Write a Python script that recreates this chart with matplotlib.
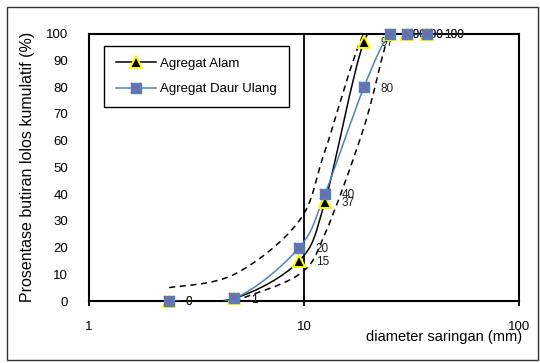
import matplotlib
matplotlib.use("Agg")
import matplotlib.pyplot as plt
from matplotlib.lines import Line2D
from matplotlib.path import Path
from matplotlib.patches import PathPatch, Rectangle
import numpy as np

plt.rcParams['font.family'] = ['Liberation Sans', 'DejaVu Sans']

# ukuran saringan (mm)
sieve = [2.36, 4.75, 9.5, 12.5, 19, 25, 30, 37.5]
alam = [0, 1, 15, 37, 97, 100, 100, 100]
daur_ulang = [0, 1, 20, 40, 80, 100, 100, 100]

# batas gradasi (garis putus-putus)
upper_sieve = [2.36, 4.75, 9.5, 12.5, 19, 25, 30, 37.5]
upper_limit = [5, 10, 30, 56, 100, 100, 100, 100]
lower_sieve = [4.75, 9.5, 12.5, 19, 25, 30, 37.5]
lower_limit = [0, 10, 25, 65, 100, 100, 100]

yticks = list(range(0, 101, 10))
xticks = [1, 10, 100]


def smooth_path(xs, ys):
    # bezier halus ala Excel (Catmull-Rom) pada sumbu log
    p = np.column_stack([np.log10(xs), ys]).astype(float)
    n = len(p)
    verts = [p[0]]
    codes = [Path.MOVETO]
    for i in range(n - 1):
        p0 = p[max(i - 1, 0)]
        p1 = p[i]
        p2 = p[i + 1]
        p3 = p[min(i + 2, n - 1)]
        c1 = p1 + (p2 - p0) / 6.0
        c2 = p2 - (p3 - p1) / 6.0
        verts += [c1, c2, p2]
        codes += [Path.CURVE4] * 3
    verts = np.array(verts)
    verts[:, 0] = 10 ** verts[:, 0]
    return Path(verts, codes)


fig = plt.figure(figsize=(5.4, 3.63), dpi=100)
ax = fig.add_axes([89 / 540, 1 - 301 / 363, 430 / 540, 267.3 / 363])
ax.set_xscale('log')
ax.set_xlim(1, 100)
ax.set_ylim(0, 100)

# garis batas
for xs, ys in [(upper_sieve, upper_limit), (lower_sieve, lower_limit)]:
    ax.add_patch(PathPatch(smooth_path(xs, ys), fill=False, edgecolor='black',
                           lw=1.1, linestyle=(0, (4, 3)), zorder=2))

# garis data
ax.add_patch(PathPatch(smooth_path(sieve, alam), fill=False, edgecolor='black',
                       lw=1.1, zorder=3))
ax.add_patch(PathPatch(smooth_path(sieve, daur_ulang), fill=False, edgecolor='#4F81BD',
                       lw=1.1, zorder=4))

ax.plot(sieve, alam, linestyle='none', marker='^', ms=8, mfc='black',
        mec='#FFFF00', mew=1.4, zorder=5, clip_on=False)
ax.plot(sieve, daur_ulang, linestyle='none', marker='s', ms=7.5, mfc='#4F81BD',
        mec='#4F81BD', zorder=6, clip_on=False)
ax.plot(sieve, daur_ulang, linestyle='none', marker='x', ms=7, color='#8064A2',
        mec='#8064A2', mew=1.2, zorder=7, clip_on=False)

for xs, ys in [(sieve, alam), (sieve, daur_ulang)]:
    for x, y in zip(xs, ys):
        ax.annotate(str(y), (x, y), xytext=(12, -1), textcoords='offset points',
                    ha='left', va='center', fontsize=8.5, color='#222222',
                    annotation_clip=False)

ax.axvline(10, color='black', lw=1.3, zorder=1)

ax.set_xticks(xticks)
ax.set_xticklabels([str(t) for t in xticks])
ax.xaxis.set_minor_locator(matplotlib.ticker.NullLocator())
ax.set_yticks(yticks)
ax.tick_params(axis='x', direction='inout', length=7, width=1.3, pad=11,
               labelsize=9.5)
ax.tick_params(axis='y', length=0, pad=15, labelsize=9.5)
for s in ax.spines.values():
    s.set_linewidth(1.5)

ax.set_ylabel('Prosentase butiran lolos kumulatif (%)', fontsize=11.5)
ax.yaxis.set_label_coords(-0.125, 0.5)
fig.text(444 / 540, 1 - 337 / 363, 'diameter saringan (mm)', ha='center',
         va='center', fontsize=10.5)

h1 = Line2D([], [], color='black', lw=1.1, marker='^', ms=8, mfc='black',
            mec='#FFFF00', mew=1.4)
h2a = Line2D([], [], color='#4F81BD', lw=1.1, marker='s', ms=7.5,
             mfc='#4F81BD', mec='#4F81BD')
h2b = Line2D([], [], linestyle='none', marker='x', ms=7, color='#8064A2',
             mec='#8064A2', mew=1.2)
leg = ax.legend([h1, (h2a, h2b)], ['Agregat Alam', 'Agregat Daur Ulang'],
                loc='upper left', bbox_to_anchor=(0.035, 0.955), borderaxespad=0,
                fontsize=9.5, handlelength=3.0, handletextpad=0.35,
                labelspacing=1.0, borderpad=0.9, fancybox=False,
                framealpha=1, edgecolor='black', numpoints=1)
leg.get_frame().set_linewidth(1.0)
leg.set_zorder(10)

# bingkai luar grafik
fig.patches.append(Rectangle((7 / 540, 1 - 360 / 363), 531 / 540, 353 / 363,
                             transform=fig.transFigure, fill=False,
                             edgecolor='#333333', lw=1.0))

fig.savefig('out.png', dpi=100)
